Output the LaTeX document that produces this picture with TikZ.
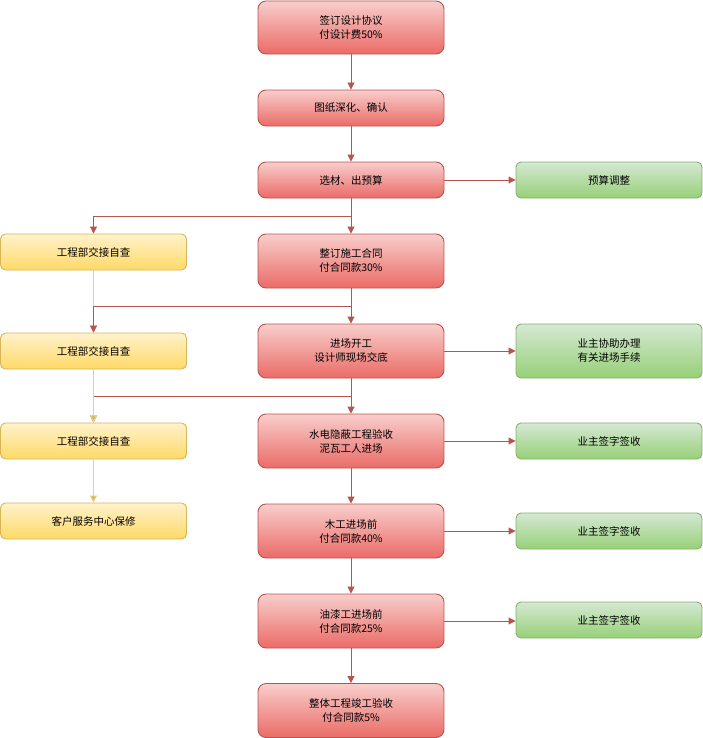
\documentclass[tikz,border=0pt]{standalone}
\usepackage{fontspec}
\newfontfamily\cjk{Noto Sans CJK SC}
\usetikzlibrary{arrows.meta}
\definecolor{rstroke}{HTML}{B85450}
\definecolor{rtop}{HTML}{F8CECC}
\definecolor{rbot}{HTML}{EA6B66}
\definecolor{ystroke}{HTML}{D6B656}
\definecolor{ytop}{HTML}{FFF2CC}
\definecolor{ybot}{HTML}{FFD966}
\definecolor{yline}{HTML}{E8CF8C}
\definecolor{gstroke}{HTML}{82B366}
\definecolor{gtop}{HTML}{D5E8D4}
\definecolor{gbot}{HTML}{97D077}
\begin{document}
\begin{tikzpicture}[x=1bp,y=-1bp,
  box/.style={minimum width=186bp, inner sep=0pt, align=center, line width=0.9bp,
    font=\cjk\fontsize{10.5bp}{14bp}\selectfont},
  redbox/.style={box, draw=rstroke, top color=rtop, bottom color=rbot, rounded corners=8bp},
  yelbox/.style={box, draw=ystroke, top color=ytop, bottom color=ybot, rounded corners=5bp, minimum height=36bp},
  grnbox/.style={box, draw=gstroke, top color=gtop, bottom color=gbot, rounded corners=5bp},
  redarrow/.style={draw=rstroke, line width=0.9bp, -{Triangle[width=7bp,length=7bp]}},
  yelarrow/.style={draw=yline, line width=0.9bp, -{Triangle[width=7bp,length=7bp,fill=ystroke]}},
]
\useasboundingbox (0,0) rectangle (703,738);

% red column
\node[redbox, minimum height=53bp] (r1) at (351,27.5) {签订设计协议\\付设计费50\%};
\node[redbox, minimum height=36bp] (r2) at (351,108) {图纸深化、确认};
\node[redbox, minimum height=36bp] (r3) at (351,180) {选材、出预算};
\node[redbox, minimum height=54bp] (r4) at (351,261) {整订施工合同\\付合同款30\%};
\node[redbox, minimum height=54bp] (r5) at (351,351) {进场开工\\设计师现场交底};
\node[redbox, minimum height=54bp] (r6) at (351,441) {水电隐蔽工程验收\\泥瓦工人进场};
\node[redbox, minimum height=54bp] (r7) at (351,531) {木工进场前\\付合同款40\%};
\node[redbox, minimum height=54bp] (r8) at (351,621) {油漆工进场前\\付合同款25\%};
\node[redbox, minimum height=54bp] (r9) at (351,710.5) {整体工程竣工验收\\付合同款5\%};

% yellow column
\node[yelbox] (y1) at (93.5,252) {工程部交接自查};
\node[yelbox] (y2) at (93.5,351) {工程部交接自查};
\node[yelbox] (y3) at (93.5,441) {工程部交接自查};
\node[yelbox] (y4) at (93.5,521) {客户服务中心保修};

% green column
\node[grnbox, minimum height=36bp] (g1) at (609,180) {预算调整};
\node[grnbox, minimum height=54bp] (g2) at (609,351) {业主协助办理\\有关进场手续};
\node[grnbox, minimum height=36bp] (g3) at (609,441) {业主签字签收};
\node[grnbox, minimum height=36bp] (g4) at (609,531) {业主签字签收};
\node[grnbox, minimum height=36bp] (g5) at (609,620) {业主签字签收};

% junction points
\coordinate (j1) at (351,216);
\coordinate (j2) at (351,306);
\coordinate (j3) at (351,396);

% main chain
\draw[redarrow] (r1) -- (r2);
\draw[redarrow] (r2) -- (r3);
\draw[redarrow] (r3) -- (r4);
\draw[redarrow] (r4) -- (r5);
\draw[redarrow] (r5) -- (r6);
\draw[redarrow] (r6) -- (r7);
\draw[redarrow] (r7) -- (r8);
\draw[redarrow] (r8) -- (r9);

% branches to the left
\draw[yelarrow] (y1) -- (y2);
\draw[redarrow] (r3.south) -- (j1) -| (y1.north);
\draw[redarrow] (r4.south) -- (j2) -| (y2.north);
\draw[redarrow] (r5.south) -- (j3) -| (y3.north);
\draw[yelarrow] (y2) -- (y3);
\draw[yelarrow] (y3) -- (y4);

% branches to the right
\draw[redarrow] (r3) -- (g1);
\draw[redarrow] (r5) -- (g2);
\draw[redarrow] (r6) -- (g3);
\draw[redarrow] (r7) -- (g4);
\draw[redarrow] (r8.east) -- (r8.east -| g5.west);
\end{tikzpicture}
\end{document}
